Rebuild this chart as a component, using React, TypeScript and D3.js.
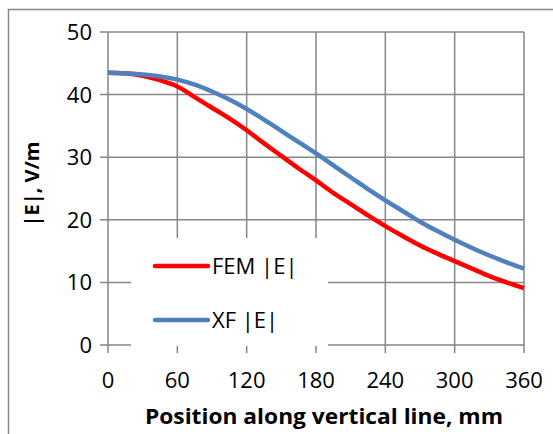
import React, { useEffect, useRef } from "react";
import * as d3 from "d3";

// position along vertical line, mm
const positions = [0, 15, 30, 45, 60, 75, 90, 105, 120, 135, 150, 165, 180, 195, 210, 225, 240, 255, 270, 285, 300, 315, 330, 345, 360];
const femE = [43.5, 43.4, 43.0, 42.3, 41.3, 39.6, 37.9, 36.2, 34.3, 32.2, 30.2, 28.2, 26.3, 24.3, 22.5, 20.7, 19.0, 17.4, 15.9, 14.6, 13.4, 12.2, 11.0, 10.0, 9.1];
const xfE = [43.5, 43.4, 43.2, 42.9, 42.4, 41.6, 40.5, 39.2, 37.7, 36.0, 34.2, 32.4, 30.6, 28.7, 26.8, 24.9, 23.1, 21.4, 19.7, 18.2, 16.8, 15.5, 14.3, 13.2, 12.2];
const xTicks = [0, 60, 120, 180, 240, 300, 360];
const yTicks = [0, 10, 20, 30, 40, 50];
const seriesNames = ["FEM |E|", "XF |E|"];
const seriesColors = ["#ff0000", "#4f81bd"];

const App = () => {
  const ref = useRef<SVGSVGElement>(null);

  useEffect(() => {
    const svg = d3.select(ref.current);
    svg.selectAll("*").remove();

    const x = d3.scaleLinear().domain([0, 360]).range([108, 524]);
    const y = d3.scaleLinear().domain([0, 50]).range([345, 32]);
    const grid = "#868686";
    const font = "'Open Sans', sans-serif";

    // outer chart border
    svg.append("rect")
      .attr("x", 8.5).attr("y", 9.5)
      .attr("width", 600).attr("height", 500)
      .attr("fill", "white")
      .attr("stroke", "#878787").attr("stroke-width", 1.5);

    // horizontal gridlines + ticks
    svg.append("g").selectAll("line")
      .data(yTicks)
      .join("line")
      .attr("x1", 100).attr("x2", x(360))
      .attr("y1", d => y(d)).attr("y2", d => y(d))
      .attr("stroke", grid).attr("stroke-width", 1.5);

    // vertical gridlines + ticks below axis
    svg.append("g").selectAll("line")
      .data(xTicks)
      .join("line")
      .attr("x1", d => x(d)).attr("x2", d => x(d))
      .attr("y1", y(50)).attr("y2", y(0) + 8)
      .attr("stroke", grid).attr("stroke-width", 1.5);

    // y tick labels
    svg.append("g").selectAll("text")
      .data(yTicks)
      .join("text")
      .attr("x", 92).attr("y", d => y(d))
      .attr("dy", "0.36em")
      .attr("text-anchor", "end")
      .style("font-family", font).style("font-size", "22px")
      .attr("fill", "#000")
      .text(d => d);

    // x tick labels
    svg.append("g").selectAll("text")
      .data(xTicks)
      .join("text")
      .attr("x", d => x(d)).attr("y", 388)
      .attr("text-anchor", "middle")
      .style("font-family", font).style("font-size", "22px")
      .attr("fill", "#000")
      .text(d => d);

    // series lines
    const line = d3.line<number>()
      .x((_, i) => x(positions[i]))
      .y(d => y(d))
      .curve(d3.curveCatmullRom);

    [femE, xfE].forEach((vals, i) => {
      svg.append("path")
        .datum(vals)
        .attr("fill", "none")
        .attr("stroke", seriesColors[i])
        .attr("stroke-width", 4.5)
        .attr("stroke-linejoin", "round")
        .attr("d", line);
    });

    // legend (white box over the grid)
    const lg = svg.append("g");
    lg.append("rect")
      .attr("x", 131).attr("y", 238)
      .attr("width", 197).attr("height", 108)
      .attr("fill", "white");
    seriesNames.forEach((name, i) => {
      const ly = 266 + i * 54;
      lg.append("line")
        .attr("x1", 155).attr("x2", 208)
        .attr("y1", ly).attr("y2", ly)
        .attr("stroke", seriesColors[i])
        .attr("stroke-width", 4.5)
        .attr("stroke-linecap", "round");
      lg.append("text")
        .attr("x", 212).attr("y", ly)
        .attr("dy", "0.36em")
        .style("font-family", font).style("font-size", "22px")
        .attr("fill", "#000")
        .text(name);
    });

    // axis titles
    svg.append("text")
      .attr("x", 145).attr("y", 424)
      .attr("textLength", 358).attr("lengthAdjust", "spacingAndGlyphs")
      .style("font-family", font).style("font-size", "21px")
      .style("font-weight", "bold")
      .attr("fill", "#000")
      .text("Position along vertical line, mm");

    svg.append("text")
      .attr("transform", "translate(39,184) rotate(-90)")
      .attr("text-anchor", "middle")
      .style("font-family", font).style("font-size", "20px")
      .style("font-weight", "bold")
      .attr("fill", "#000")
      .text("|E|, V/m");
  }, []);

  return (
    <svg ref={ref} width={553} height={434}
      style={{ position: "absolute", left: 0, top: 0, background: "white" }} />
  );
};

export default App;
